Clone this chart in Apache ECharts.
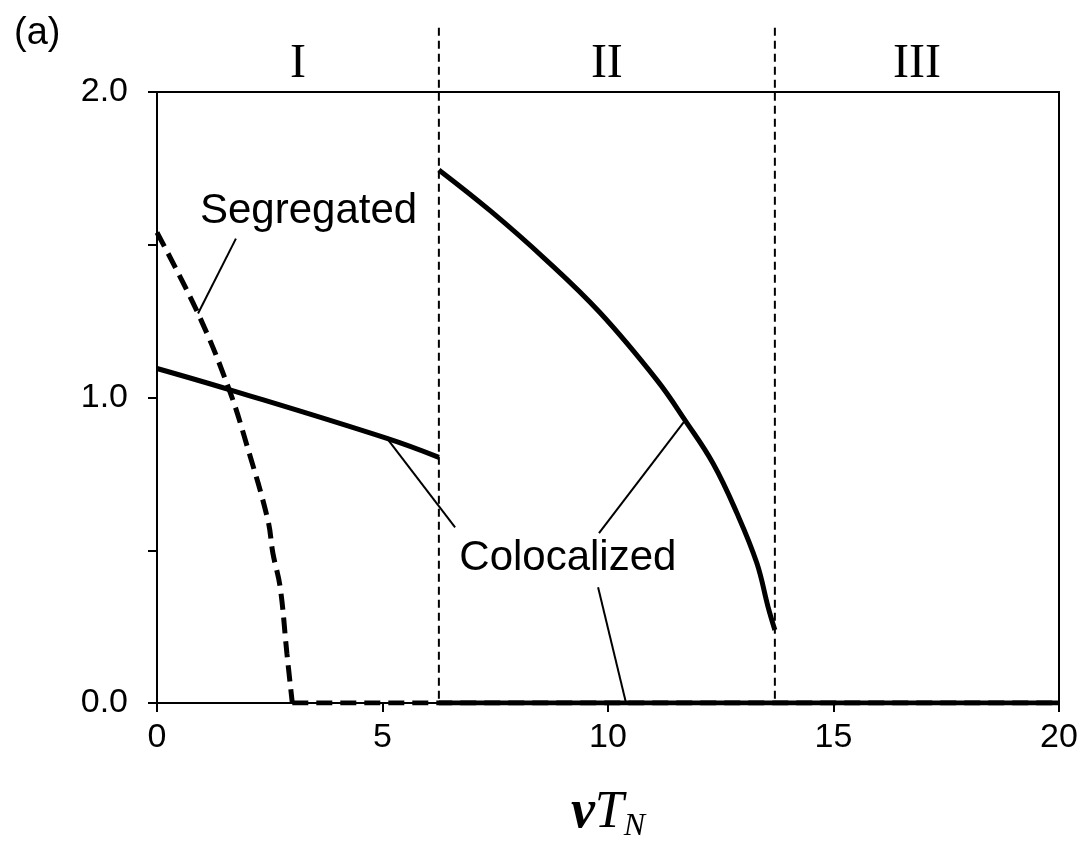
<!DOCTYPE html>
<html>
<head>
<meta charset="utf-8">
<title>Phase diagram</title>
<script src="https://cdn.jsdelivr.net/npm/echarts@6/dist/echarts.min.js"></script>
<style>
  html, body { margin: 0; padding: 0; background: #fff; }
  #chart { width: 1086px; height: 849px; }
</style>
</head>
<body>
<div id="chart"></div>
<script>
// Segregated branch (dashed): falls from ~1.54 to zero near vT_N = 3
const segregatedFall = [
  [0, 1.54], [0.91, 1.275], [1.6, 1.026], [2.0, 0.84], [2.46, 0.598],
  [2.57, 0.49], [2.73, 0.38], [2.88, 0.163], [3.0, 0.0]
];
// Segregated branch at zero beyond the collapse
const segregatedZero = [[3.0, 0.0], [20, 0.0]];
// Colocalized branch in region I
const colocalizedI = [[0, 1.095], [1.6, 1.026], [5.1, 0.866], [6.25, 0.804]];
// Colocalized branch in region II
const colocalizedII = [
  [6.25, 1.745], [7.4, 1.61], [8.6, 1.454], [9.82, 1.278], [11.09, 1.056],
  [11.71, 0.925], [12.33, 0.784], [12.86, 0.621], [13.3, 0.458],
  [13.55, 0.314], [13.7, 0.239]
];
// Colocalized zero solution
const colocalizedZero = [[6.25, 0], [20, 0]];

// Region boundaries and names
const boundaries = [6.25, 13.7];
const regionNames = ['I', 'II', 'III'];
const xMin = 0, xMax = 20;
const boundaryTop = 2.21;
const regionLabelY = 2.09;

// Callout texts and their leader lines [x1, y1, x2, y2]
const calloutTexts = ['Segregated', 'Colocalized'];
const calloutPos = [[3.36, 1.61], [9.11, 0.474]];
const leaders = [
  [1.75, 1.52, 0.91, 1.275],
  [5.1, 0.866, 6.61, 0.575],
  [11.71, 0.925, 9.8, 0.556],
  [9.78, 0.379, 10.4, 0.0]
];

const edges = [xMin].concat(boundaries, [xMax]);
const regionCenters = regionNames.map((_, i) => [(edges[i] + edges[i + 1]) / 2, regionLabelY]);

const sans = '"Liberation Sans", Arial, Helvetica, sans-serif';
const serif = '"Liberation Serif", "Times New Roman", serif';

const chart = echarts.init(document.getElementById('chart'), null, { renderer: 'canvas' });

const curve = (name, data, dashed, z) => ({
  name, type: 'line', data,
  smooth: 0.4,
  showSymbol: false, z,
  lineStyle: { color: '#000', width: 5, type: dashed ? [16, 8] : 'solid' }
});

const option = {
  animation: false,
  backgroundColor: '#fff',
  title: {
    text: '(a)', left: 9, top: 10,
    textStyle: { fontFamily: sans, fontSize: 38, fontWeight: 'normal', color: '#000' }
  },
  grid: {
    left: 157, right: 27, top: 92, bottom: 146,
    show: true, borderColor: '#000', borderWidth: 2, backgroundColor: 'transparent'
  },
  xAxis: {
    type: 'value', min: xMin, max: xMax, interval: 5,
    axisLine: { show: true, onZero: false, lineStyle: { color: '#000', width: 2 } },
    axisTick: { show: true, inside: false, length: 9, lineStyle: { color: '#000', width: 2 } },
    axisLabel: { margin: 18, fontFamily: sans, fontSize: 34, color: '#000' },
    splitLine: { show: false },
    name: '{v|ν}{t|T}{n|N}',
    nameLocation: 'middle',
    nameGap: 80,
    nameTextStyle: {
      rich: {
        v: { fontFamily: serif, fontStyle: 'italic', fontWeight: 'bold', fontSize: 54, lineHeight: 60, color: '#000' },
        t: { fontFamily: serif, fontStyle: 'italic', fontSize: 52, lineHeight: 60, color: '#000' },
        n: { fontFamily: serif, fontStyle: 'italic', fontSize: 32, lineHeight: 20, verticalAlign: 'bottom', color: '#000' }
      }
    }
  },
  yAxis: {
    type: 'value', min: 0, max: 2, interval: 0.5,
    axisLine: { show: true, onZero: false, lineStyle: { color: '#000', width: 2 } },
    axisTick: { show: true, inside: false, length: 9, lineStyle: { color: '#000', width: 2 } },
    axisLabel: {
      margin: 29, fontFamily: sans, fontSize: 34, color: '#000',
      formatter: v => (Math.abs(v - Math.round(v)) < 1e-9 ? v.toFixed(1) : '')
    },
    splitLine: { show: false }
  },
  series: [
    curve('Segregated', segregatedFall, true, 3),
    {
      name: 'Segregated', type: 'line', data: segregatedZero,
      showSymbol: false, z: 3,
      lineStyle: { color: '#000', width: 5, type: [16, 8] }
    },
    curve('Colocalized', colocalizedI, false, 4),
    curve('Colocalized', colocalizedII, false, 4),
    {
      name: 'Colocalized', type: 'line', data: colocalizedZero,
      showSymbol: false, z: 4,
      lineStyle: { color: '#000', width: 5 }
    },
    {
      // dashed region boundaries, extending above the frame
      type: 'custom', clip: false, silent: true, z: 2,
      data: boundaries.map(b => [b, 0]),
      renderItem: (params, api) => {
        const x = api.value(0);
        const top = api.coord([x, boundaryTop]);
        const bot = api.coord([x, 0]);
        return {
          type: 'line',
          shape: { x1: top[0], y1: top[1], x2: bot[0], y2: bot[1] },
          style: { stroke: '#000', lineWidth: 2, lineDash: [8, 5] }
        };
      }
    },
    {
      // region names I, II, III above the frame
      type: 'custom', clip: false, silent: true,
      data: regionCenters,
      renderItem: (params, api) => {
        const p = api.coord([api.value(0), api.value(1)]);
        return {
          type: 'text', x: p[0], y: p[1],
          style: {
            text: regionNames[params.dataIndex], fill: '#000',
            fontFamily: serif, fontSize: 48,
            align: 'center', verticalAlign: 'middle',
            textAlign: 'center', textVerticalAlign: 'middle'
          }
        };
      }
    },
    {
      // leader lines for callouts
      type: 'custom', clip: false, silent: true, z: 5,
      data: leaders,
      renderItem: (params, api) => {
        const a = api.coord([api.value(0), api.value(1)]);
        const b = api.coord([api.value(2), api.value(3)]);
        return {
          type: 'line',
          shape: { x1: a[0], y1: a[1], x2: b[0], y2: b[1] },
          style: { stroke: '#000', lineWidth: 2 }
        };
      }
    },
    {
      // callout texts
      type: 'custom', clip: false, silent: true, z: 5,
      data: calloutPos,
      renderItem: (params, api) => {
        const p = api.coord([api.value(0), api.value(1)]);
        return {
          type: 'text', x: p[0], y: p[1],
          style: {
            text: calloutTexts[params.dataIndex], fill: '#000',
            fontFamily: sans, fontSize: 42,
            align: 'center', verticalAlign: 'middle',
            textAlign: 'center', textVerticalAlign: 'middle'
          }
        };
      }
    }
  ]
};

chart.setOption(option);
</script>
</body>
</html>
